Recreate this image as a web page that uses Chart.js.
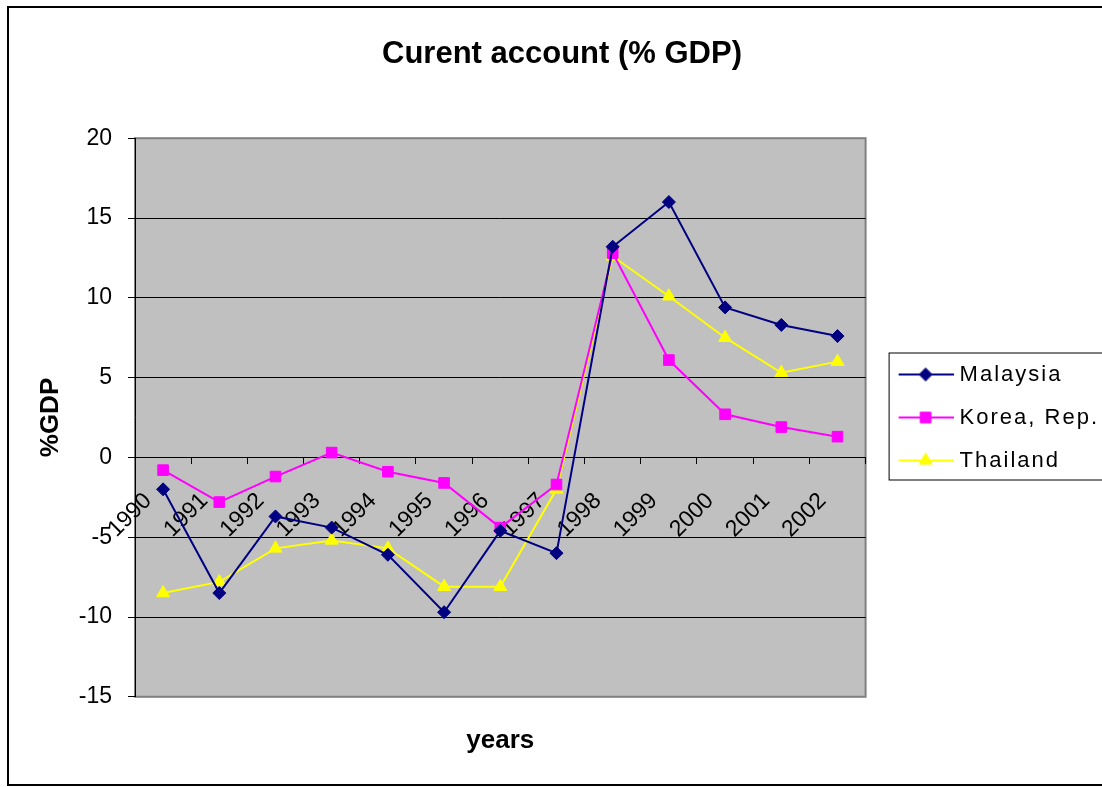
<!DOCTYPE html>
<html>
<head>
<meta charset="utf-8">
<title>Curent account (% GDP)</title>
<script src="https://cdn.jsdelivr.net/npm/chart.js@4/dist/chart.umd.min.js"></script>
<style>
    body { margin: 0; background: #fff; overflow: hidden; }
    canvas#GraficoConta { display: block; }
</style>
</head>
<body>
<canvas id="GraficoConta" width="1102" height="787"></canvas>
<script>
var years = ['1990', '1991', '1992', '1993', '1994', '1995', '1996', '1997', '1998', '1999', '2000', '2001', '2002'];
var malaysia = [-2.0, -8.5, -3.7, -4.4, -6.1, -9.7, -4.6, -6.0, 13.2, 16.0, 9.4, 8.3, 7.6];
var korea = [-0.8, -2.8, -1.2, 0.3, -0.9, -1.6, -4.4, -1.7, 12.8, 6.1, 2.7, 1.9, 1.3];
var thailand = [-8.5, -7.8, -5.7, -5.2, -5.7, -8.1, -8.1, -2.0, 12.6, 10.1, 7.5, 5.3, 6.0];

var fonte = 'Arial, "Liberation Sans", sans-serif';

// line + marker drawn on a small canvas, used as the legend symbol
function simbolo(cor, estilo, raio) {
    var c = document.createElement('canvas');
    c.width = 72;
    c.height = 24;
    var g = c.getContext('2d');
    g.strokeStyle = cor;
    g.fillStyle = cor;
    g.lineWidth = 2;
    g.beginPath();
    g.moveTo(17, 12);
    g.lineTo(72, 12);
    g.stroke();
    g.lineWidth = 1;
    Chart.helpers.drawPoint(g, { pointStyle: estilo, radius: raio, borderWidth: 1, rotation: 0 }, 44, 12);
    return c;
}

var fundo = {
    id: 'fundo',
    beforeUpdate: function (chart) {
        var lg = chart.legend;
        if (!lg || lg._espacado) return;
        ['fit', 'draw'].forEach(function (m) {
            var orig = lg[m];
            lg[m] = function () {
                this.ctx.save();
                this.ctx.letterSpacing = '2px';
                var r = orig.apply(this, arguments);
                this.ctx.restore();
                return r;
            };
        });
        lg._espacado = true;
    },
    beforeDraw: function (chart) {
        var ctx = chart.ctx, a = chart.chartArea;
        ctx.save();
        ctx.fillStyle = '#fff';
        ctx.fillRect(0, 0, chart.width, chart.height);
        ctx.fillStyle = '#c0c0c0';
        ctx.fillRect(a.left, a.top, a.right - a.left, a.bottom - a.top);
        ctx.strokeStyle = '#808080';
        ctx.lineWidth = 2;
        ctx.strokeRect(a.left, a.top, a.right - a.left, a.bottom - a.top);
        ctx.restore();
    },
    afterDraw: function (chart) {
        var ctx = chart.ctx, lg = chart.legend, h = lg.legendHitBoxes;
        ctx.save();
        ctx.strokeStyle = '#000';
        ctx.lineWidth = 1;
        ctx.strokeRect(lg.left + 23.5, h[0].top - 10.5, chart.width, h[h.length - 1].top - h[0].top + 41);
        ctx.lineWidth = 2;
        ctx.strokeRect(8, 7, chart.width + 10, 778);
        ctx.restore();
    }
};

var simbolos = [
    simbolo('#000080', 'rectRot', 6.5),
    simbolo('#ff00ff', 'rect', 7.5),
    simbolo('#ffff00', 'triangle', 7.5)
];

var ctx = document.getElementById('GraficoConta').getContext('2d');
var grafico = new Chart(ctx, {
    type: 'line',
    data: {
        labels: years,
        datasets: [{
            label: 'Malaysia',
            data: malaysia,
            borderColor: '#000080',
            backgroundColor: '#000080',
            borderWidth: 2,
            pointStyle: 'rectRot',
            pointRadius: 6.5,
            pointBorderWidth: 1,
            tension: 0
        }, {
            label: 'Korea, Rep.',
            data: korea,
            borderColor: '#ff00ff',
            backgroundColor: '#ff00ff',
            borderWidth: 2,
            pointStyle: 'rect',
            pointRadius: 7.5,
            pointBorderWidth: 1,
            tension: 0
        }, {
            label: 'Thailand',
            data: thailand,
            borderColor: '#ffff00',
            backgroundColor: '#ffff00',
            borderWidth: 2,
            pointStyle: 'triangle',
            pointRadius: 7.5,
            pointBorderWidth: 1,
            tension: 0
        }]
    },
    options: {
        responsive: false,
        animation: false,
        layout: { padding: { left: 15, right: -7, top: 0, bottom: 0 } },
        plugins: {
            title: {
                display: true,
                text: 'Curent account (% GDP)',
                color: '#000',
                font: { family: fonte, size: 31, weight: 'bold' },
                padding: { top: 36, bottom: 65 }
            },
            legend: {
                position: 'right',
                align: 'center',
                fullSize: false,
                labels: {
                    color: '#000',
                    font: { family: fonte, size: 22 },
                    usePointStyle: true,
                    pointStyleWidth: 62,
                    padding: 21,
                    generateLabels: function (chart) {
                        return chart.data.datasets.map(function (ds, i) {
                            return {
                                text: ds.label,
                                pointStyle: simbolos[i],
                                fillStyle: ds.backgroundColor,
                                strokeStyle: ds.borderColor,
                                lineWidth: 0,
                                hidden: false,
                                datasetIndex: i,
                                fontColor: '#000'
                            };
                        });
                    }
                }
            },
            tooltip: { enabled: false }
        },
        scales: {
            x: {
                type: 'category',
                position: { y: 0 },
                offset: true,
                grid: { offset: true, drawOnChartArea: false, drawTicks: true, tickLength: 6, color: '#000', tickColor: '#000' },
                border: { color: '#000', width: 1 },
                ticks: {
                    autoSkip: false,
                    minRotation: 45,
                    maxRotation: 45,
                    padding: 24,
                    labelOffset: -15,
                    color: '#000',
                    font: { family: fonte, size: 23 }
                }
            },
            x2: {
                type: 'category',
                position: 'bottom',
                offset: true,
                grid: { display: false },
                border: { display: false },
                ticks: { display: false },
                title: {
                    display: true,
                    text: 'years',
                    color: '#000',
                    font: { family: fonte, size: 26, weight: 'bold' },
                    padding: { top: 20, bottom: 31 }
                }
            },
            y: {
                min: -15,
                max: 20,
                ticks: { stepSize: 5, padding: 16, color: '#000', font: { family: fonte, size: 23 } },
                grid: {
                    color: function (c) {
                        return (c.tick && (c.tick.value === 20 || c.tick.value === -15)) ? 'rgba(0,0,0,0)' : '#000';
                    },
                    tickColor: '#000',
                    tickLength: 7
                },
                border: { color: '#000', width: 1 },
                title: {
                    display: true,
                    text: '%GDP',
                    color: '#000',
                    font: { family: fonte, size: 26, weight: 'bold' },
                    padding: { top: 20, bottom: 10 }
                },
                afterFit: function (s) { s.width = 120; }
            }
        }
    },
    plugins: [fundo]
});
</script>
</body>
</html>
